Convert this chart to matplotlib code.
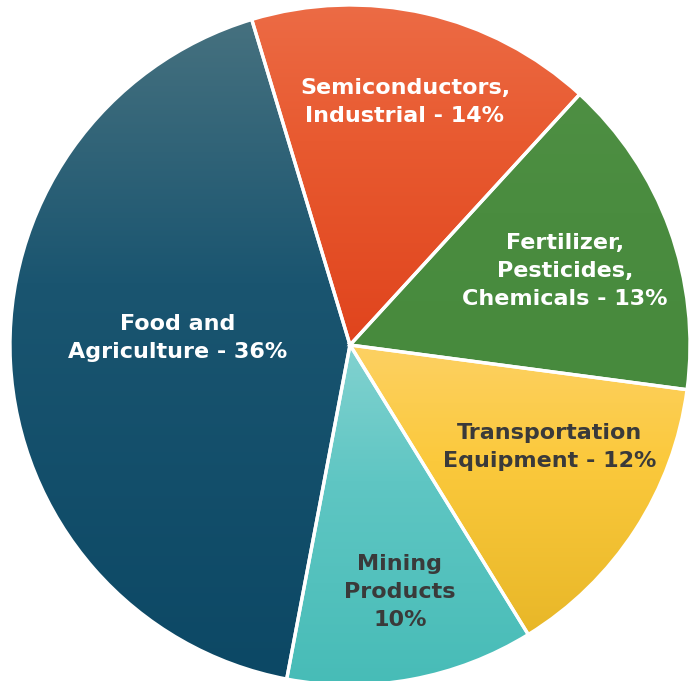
import numpy as np
import matplotlib.pyplot as plt
from matplotlib.colors import LinearSegmentedColormap

labels = ["Semiconductors,\nIndustrial - 14%", "Fertilizer,\nPesticides,\nChemicals - 13%",
          "Transportation\nEquipment - 12%", "Mining\nProducts\n10%", "Food and\nAgriculture - 36%"]
values = [14, 13, 12, 10, 36]
# gradient stops, bottom -> top
grad_colors = [["#e0441d", "#e85a30", "#ec6b45"],
               ["#478a3d", "#4a8c3f", "#4e8f43"],
               ["#e8b728", "#fbc93c", "#fdd163"],
               ["#47bcb7", "#5fc6c3", "#82d2d0"],
               ["#0c4865", "#1a5570", "#46717f"]]
text_colors = ["white", "white", "#3a3a3a", "#3a3a3a", "white"]
label_pos = [(405, 102), (565, 271), (550, 447), (400, 592), (178, 338)]

W, H = 694, 681
cx, cy, R = 350, 345, 340

fig = plt.figure(figsize=(W / 100, H / 100), dpi=100)
ax = fig.add_axes([0, 0, 1, 1])

wedges, _ = ax.pie(values, startangle=106.8, counterclock=False, radius=R,
                   center=(cx, H - cy), frame=True,
                   wedgeprops=dict(edgecolor="white", linewidth=2.4))

for w, cols in zip(wedges, grad_colors):
    bb = w.get_path().get_extents()
    cmap = LinearSegmentedColormap.from_list("g", [(0, cols[0]), (0.6, cols[1]), (1, cols[2])])
    grad = np.linspace(0, 1, 256).reshape(-1, 1)
    im = ax.imshow(grad, cmap=cmap, origin="lower", aspect="auto",
                   extent=[bb.x0, bb.x1, bb.y0, bb.y1], zorder=1)
    im.set_clip_path(w)
    w.set_facecolor("none")
    w.set_zorder(2)

for lab, (x, y), tc in zip(labels, label_pos, text_colors):
    ax.text(x, H - y, lab, ha="center", va="center", color=tc, fontsize=16,
            fontweight="bold", linespacing=1.5, zorder=3)

ax.set_xlim(0, W)
ax.set_ylim(0, H)
ax.axis("off")
fig.savefig("out.png", dpi=100)
